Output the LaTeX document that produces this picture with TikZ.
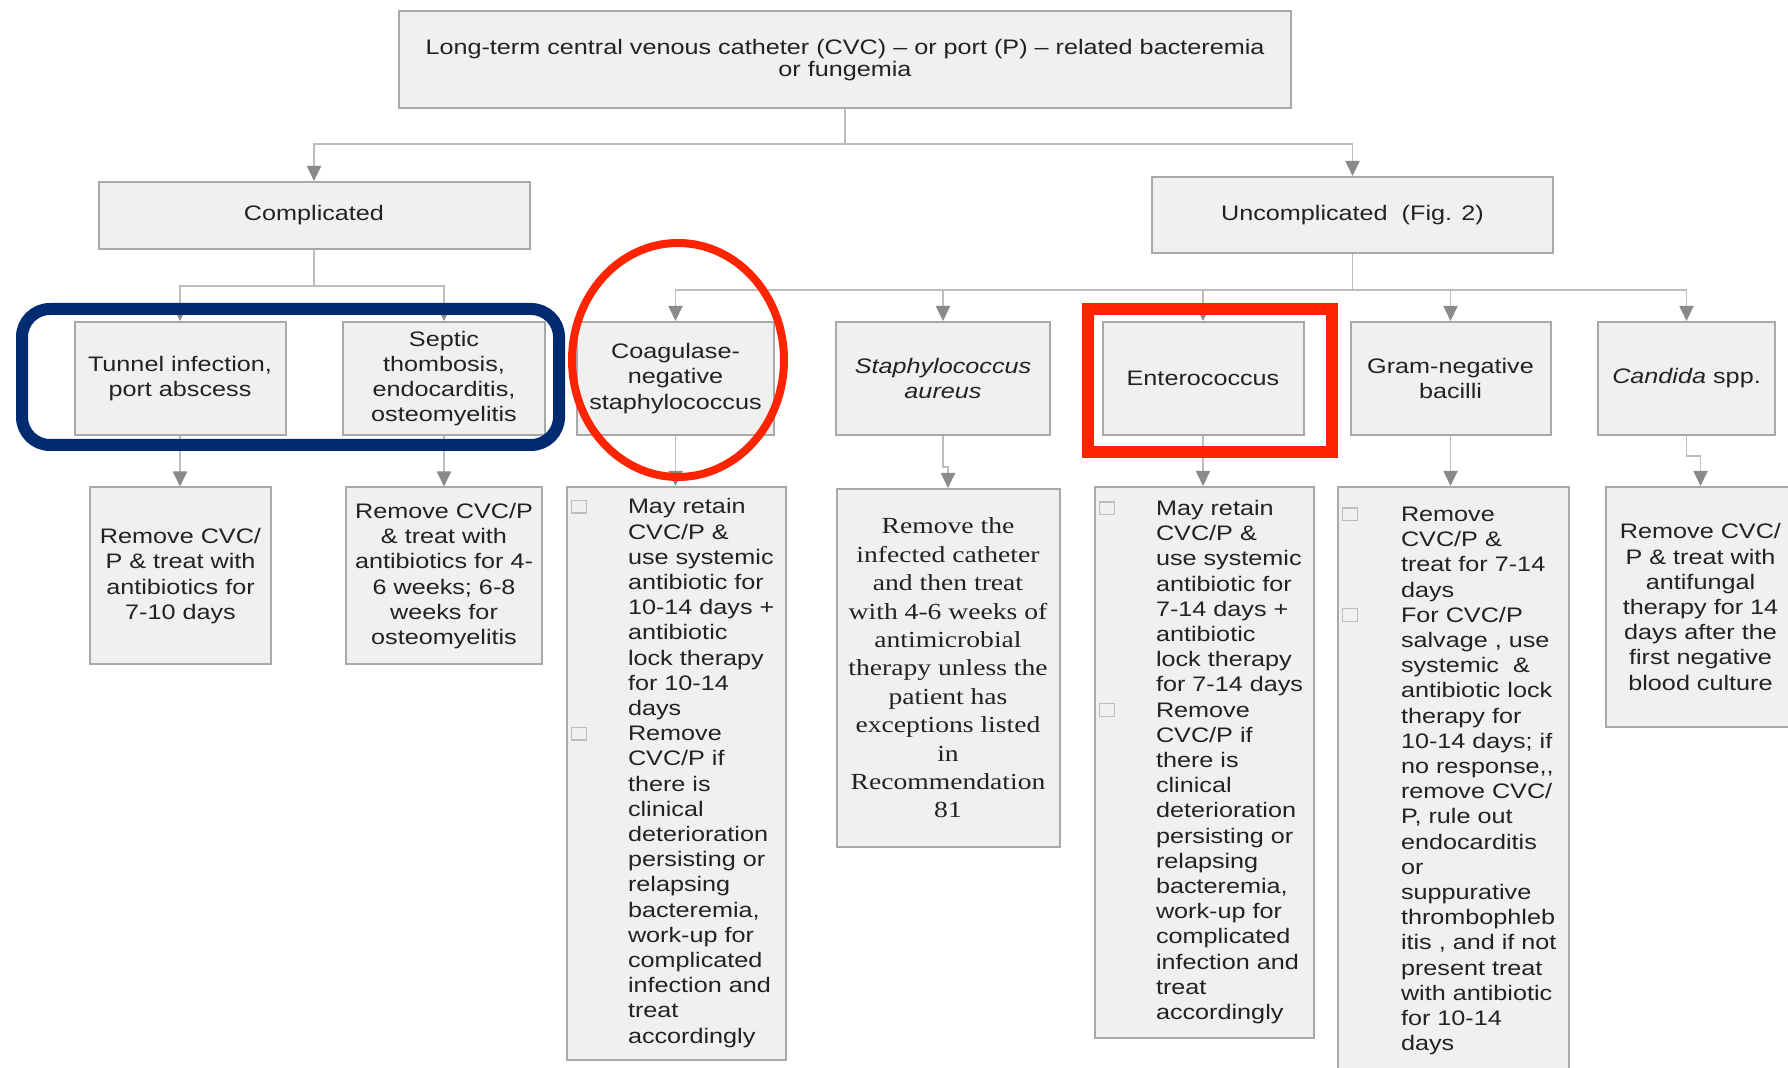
\documentclass[tikz,border=0pt]{standalone}
\usepackage{fontspec}
\setmainfont{Liberation Sans}[FakeStretch=1.2]
\newfontfamily\serifwide{Liberation Serif}[FakeStretch=1.2]
\usetikzlibrary{arrows.meta}

\definecolor{boxfill}{HTML}{F0F0F0}
\definecolor{boxline}{HTML}{A9A9A9}
\definecolor{linkgray}{HTML}{BDBDBD}
\definecolor{tipgray}{HTML}{8A8A8A}
\definecolor{textgray}{HTML}{222222}
\definecolor{sqgray}{HTML}{BDBDBD}
\definecolor{markblue}{HTML}{002B70}
\definecolor{markred}{HTML}{FF2400}

% small hollow square in front of an item
\newcommand{\sqbul}{\hspace*{2pt}{\color{sqgray}\setlength{\fboxsep}{0pt}\setlength{\fboxrule}{0.7pt}\raisebox{0.8pt}{\fbox{\rule{0pt}{5.6pt}\hspace{6.6pt}}}}}
\newcommand{\itemlist}[2]{\begin{tabular}{@{}p{#1}@{}l@{}}#2\end{tabular}}

\begin{document}
\begin{tikzpicture}[x=0.5pt,y=-0.5pt,
  box/.style={draw=boxline,line width=1pt,fill=boxfill,text=textgray,align=center,
    inner sep=2pt,font=\fontsize{10.5}{12.6}\selectfont},
  catbox/.style={box,minimum height=56.5pt},
  listbox/.style={box,align=left,inner xsep=0pt},
  link/.style={draw=linkgray,line width=0.9pt,-{Triangle[width=7pt,length=7.5pt,color=tipgray]}}]
\fill[white] (0,0) rectangle (1788,1068);
\useasboundingbox (0,0) rectangle (1788,1068);

\node [box,minimum width=446pt,minimum height=48.5pt,font=\fontsize{10.5}{11}\selectfont] (cvc) at (845,60)
  {Long-term central venous catheter (CVC) – or port (P) – related bacteremia\\or fungemia};
\node [box,minimum width=215.5pt,minimum height=33.5pt] (comp) at (314,215.5) {Complicated};
\node [box,minimum width=200.5pt,minimum height=38pt] (unc) at (1352.5,215) {Uncomplicated \ (Fig. 2)};

\node [catbox,minimum width=105.5pt] (tun) at (180,378.5) {Tunnel infection,\\port abscess};
\node [catbox,minimum width=101pt] (sep) at (444,378.5) {Septic\\thombosis,\\endocarditis,\\osteomyelitis};
\node [catbox,minimum width=98.5pt] (cons) at (675.5,378.5) {Coagulase-\\negative\\staphylococcus};
\node [catbox,minimum width=107pt] (sau) at (943,378.5) {\textit{Staphylococcus}\\\textit{aureus}};
\node [catbox,minimum width=100.5pt] (ent) at (1203,378.5) {Enterococcus};
\node [catbox,minimum width=100pt] (gnb) at (1450.5,378.5) {Gram-negative\\bacilli};
\node [catbox,minimum width=88.5pt] (cand) at (1686.5,378.5) {\textit{Candida} spp.};

\node [box,minimum width=90.5pt,minimum height=88.5pt] (tunT) at (180.5,576)
  {Remove CVC/\\P \& treat with\\antibiotics for\\7-10 days};
\node [box,minimum width=98pt,minimum height=88.5pt] (sepT) at (444,576)
  {Remove CVC/P\\\& treat with\\antibiotics for 4-\\6 weeks; 6-8\\weeks for\\osteomyelitis};
\node [listbox,text width=109.5pt,minimum height=286.5pt] (consT) at (676.5,773.5)
  {\itemlist{30.5pt}{\sqbul & May retain\\ & CVC/P \&\\ & use systemic\\ & antibiotic for\\ & 10-14 days +\\
   & antibiotic\\ & lock therapy\\ & for 10-14\\ & days\\ \sqbul & Remove\\ & CVC/P if\\ & there is\\
   & clinical\\ & deterioration\\ & persisting or\\ & relapsing\\ & bacteremia,\\ & work-up for\\
   & complicated\\ & infection and\\ & treat\\ & accordingly}};
\node [box,minimum width=111.5pt,minimum height=179pt,font=\serifwide\fontsize{11.5}{14.2}\selectfont] (sauT) at (948,668)
  {Remove the\\infected catheter\\and then treat\\with 4-6 weeks of\\antimicrobial\\therapy unless the\\
   patient has\\exceptions listed\\in\\Recommendation\\81};
\node [listbox,text width=109.5pt,minimum height=275.5pt] (entT) at (1204.5,762.5)
  {\itemlist{30.5pt}{\sqbul & May retain\\ & CVC/P \&\\ & use systemic\\ & antibiotic for\\ & 7-14 days +\\
   & antibiotic\\ & lock therapy\\ & for 7-14 days\\ \sqbul & Remove\\ & CVC/P if\\ & there is\\
   & clinical\\ & deterioration\\ & persisting or\\ & relapsing\\ & bacteremia,\\ & work-up for\\
   & complicated\\ & infection and\\ & treat\\ & accordingly}};
\node [listbox,text width=115.5pt,minimum height=294pt] (gnbT) at (1453.5,781)
  {\itemlist{31.5pt}{\sqbul & Remove\\ & CVC/P \&\\ & treat for 7-14\\ & days\\ \sqbul & For CVC/P\\
   & salvage , use\\ & systemic \ \&\\ & antibiotic lock\\ & therapy for\\ & 10-14 days; if\\
   & no response,{},\\ & remove CVC/\\ & P, rule out\\ & endocarditis\\ & or\\ & suppurative\\
   & thrombophleb\\ & itis , and if not\\ & present treat\\ & with antibiotic\\ & for 10-14\\ & days}};
\node [box,minimum width=94.5pt,minimum height=120pt] (candT) at (1700.5,607)
  {Remove CVC/\\P \& treat with\\antifungal\\therapy for 14\\days after the\\first negative\\blood culture};

% forks
\draw[link] (cvc.south) -- ++(0,34.5) -| (comp.north);
\draw[link] (cvc.south) -- ++(0,34.5) -| (unc.north);
\draw[link] (comp.south) -- ++(0,36) -| (tun.north);
\draw[link] (comp.south) -- ++(0,36) -| (sep.north);
\draw[link] (unc.south) -- ++(0,36) -| (cons.north);
\draw[link] (unc.south) -- ++(0,36) -| (sau.north);
\draw[link] (unc.south) -- ++(0,36) -| (ent.north);
\draw[link] (unc.south) -- ++(0,36) -| (gnb.north);
\draw[link] (unc.south) -- ++(0,36) -| (cand.north);

% treatments
\draw[link] (tun.south) -- (tun.south |- tunT.north);
\draw[link] (sep.south) -- (sep.south |- sepT.north);
\draw[link] (cons.south) -- (cons.south |- consT.north);
\draw[link] (sau.south) -- ++(0,31) -| (sauT.north);
\draw[link] (ent.south) -- (ent.south |- entT.north);
\draw[link] (gnb.south) -- (gnb.south |- gnbT.north);
\draw[link] (cand.south) -- ++(0,20) -| (candT.north);

% highlights
\draw[markblue,line width=6pt,rounded corners=14pt] (22,309) rectangle (559,445);
\draw[markred,line width=4pt] (678,360) ellipse [x radius=53pt,y radius=58.5pt];
\draw[markred,line width=6pt] (1088,309) rectangle (1332,452);
\end{tikzpicture}
\end{document}
